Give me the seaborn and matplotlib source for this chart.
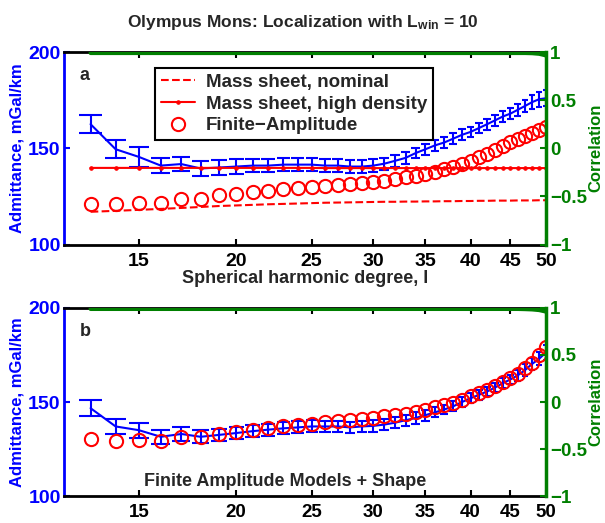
import numpy as np
import matplotlib
matplotlib.use("Agg")
import matplotlib.pyplot as plt
import seaborn as sns

# spherical harmonic degrees
degree = [13, 14, 15, 16, 17, 18, 19, 20, 21, 22, 23, 24, 25, 26, 27, 28, 29, 30, 31,
          32, 33, 34, 35, 36, 37, 38, 39, 40, 41, 42, 43, 44, 45, 46, 47, 48, 49, 50]

# panel a: observed admittance and models
obs_a = [162.5, 149.5, 145.5, 141, 141.8, 139.5, 140, 140.5, 141, 141, 141.5, 141.5, 141.5,
         141, 141, 140.5, 140.5, 141, 142, 143.5, 145, 147.5, 149.5, 151.5, 153, 155, 157,
         158.5, 160.5, 162.5, 164.5, 166.5, 168, 170, 172, 174, 175.5, 176]
err_a = [4.8, 4.6, 5, 4, 3.7, 4, 3.7, 3.7, 3.5, 3.5, 3.5, 3.5, 3.5, 3.5, 3.5, 3.5, 3.2, 3.2,
         3.2, 3.2, 3.2, 2.8, 2.8, 2.8, 2.8, 2.8, 2.8, 2.8, 2.8, 2.8, 2.8, 2.8, 2.8, 3, 3.2,
         3.5, 3.8, 4.2]
nominal_a = [117, 117.5, 118, 118.5, 119, 119.5, 120, 120.3, 120.6, 120.9, 121.1, 121.3,
             121.5, 121.7, 121.8, 121.9, 122, 122.1, 122.2, 122.2, 122.3, 122.3, 122.4, 122.4,
             122.5, 122.5, 122.6, 122.6, 122.7, 122.7, 122.8, 122.8, 122.8, 122.9, 122.9,
             122.9, 123, 123]
high_a = [139.8, 139.8, 139.8, 139.8, 139.8, 139.8, 139.8, 139.8, 139.8, 139.8, 139.8,
          139.8, 139.8, 139.7, 139.7, 139.7, 139.7, 139.7, 139.7, 139.7, 139.7, 139.7,
          139.7, 139.7, 139.7, 139.7, 139.7, 139.7, 139.7, 139.7, 139.7, 139.7, 139.7,
          139.7, 139.7, 139.7, 139.7, 139.7]
finite_a = [121.2, 121, 121.6, 121.5, 123.6, 123.9, 125.5, 126.4, 127.3, 127.9, 128.6, 129.4,
            130, 130.5, 131, 131.5, 132, 132.5, 133, 134, 135, 135.5, 136.5, 137.5, 139,
            140.5, 142, 143.5, 145.5, 147, 149, 151, 153, 155, 156.5, 158, 159.5, 161]
corr_a = [0.99, 0.99, 0.99, 0.99, 0.99, 0.99, 0.99, 0.99, 0.99, 0.99, 0.99, 0.99, 0.99,
          0.99, 0.99, 0.99, 0.99, 0.99, 0.99, 0.99, 0.99, 0.99, 0.99, 0.99, 0.99, 0.99,
          0.99, 0.99, 0.99, 0.99, 0.99, 0.99, 0.99, 0.99, 0.99, 0.988, 0.982, 0.965]

# panel b: finite amplitude models + shape
obs_b = [146.7, 137, 135, 131.5, 133, 131.5, 132.5, 133.5, 134.5, 135.3, 136, 136.5, 137,
         137, 137, 136.5, 137, 137.3, 138, 139, 140.3, 141.5, 143, 144.5, 146, 147.7, 150,
         152, 153.8, 155.6, 157.7, 160, 162, 164.2, 167, 170.3, 173, 176.4]
err_b = [4.2, 3.9, 3.9, 3.6, 3.7, 3.5, 3.2, 3.2, 3.2, 3.2, 3.2, 3.2, 3.2, 3, 3, 3, 3, 3, 3,
         3, 3, 3, 3, 2.6, 2.6, 2.6, 2.6, 2.6, 2.6, 2.6, 2.6, 2.6, 2.6, 2.8, 3, 3.2, 3.5, 3.8]
finite_b = [130.4, 129.2, 130, 129.5, 131.5, 131.3, 133, 134.2, 135.1, 136, 137, 137.9, 138.5,
            139.4, 139.9, 140.5, 141, 141.7, 142.3, 142.9, 143.8, 144.8, 146, 147.2, 148.3,
            149.5, 151.2, 153, 154.7, 156.4, 158.6, 160.8, 162.8, 165, 168, 171, 175, 179]
corr_b = [0.99, 0.99, 0.99, 0.99, 0.99, 0.99, 0.99, 0.99, 0.99, 0.99, 0.99, 0.99, 0.99,
          0.99, 0.99, 0.99, 0.99, 0.99, 0.99, 0.99, 0.99, 0.99, 0.99, 0.99, 0.99, 0.99,
          0.99, 0.99, 0.99, 0.99, 0.99, 0.99, 0.99, 0.99, 0.988, 0.985, 0.978, 0.962]

xticks = [15, 20, 25, 30, 35, 40, 45, 50]
yticks = [100, 150, 200]
cticks = [-1, -0.5, 0, 0.5, 1]
ctick_labels = ["\u22121", "\u22120.5", "0", "0.5", "1"]

sns.set_style("ticks")
plt.rcParams["font.family"] = ["Liberation Sans", "DejaVu Sans"]
plt.rcParams["font.weight"] = "bold"
plt.rcParams["font.size"] = 13
plt.rcParams["mathtext.fontset"] = "custom"
plt.rcParams["mathtext.rm"] = "Liberation Sans:bold"
plt.rcParams["mathtext.it"] = "Liberation Sans:bold"

BLUE = "#0000ff"
RED = "#ff0000"
GREEN = "#007f00"
FS = 13
TICK_FS = 14

fig = plt.figure(figsize=(6.05, 5.23), dpi=100)
ax_a = fig.add_axes([0.105, 0.5325, 0.7975, 0.368])
ax_b = fig.add_axes([0.105, 0.0516, 0.7975, 0.3595])

deg = np.array(degree, dtype=float)


def admittance_panel(ax, obs, err, finite, corr, xpad, xfs):
    obs = np.array(obs)
    err = np.array(err)
    ax.errorbar(deg, obs, yerr=err, fmt="none", ecolor=BLUE, elinewidth=1.5, capsize=0)
    ax.hlines(obs + err, deg - 0.45, deg + 0.45, color=BLUE, lw=1.5)
    ax.hlines(obs - err, deg - 0.45, deg + 0.45, color=BLUE, lw=1.5)
    sns.lineplot(x=deg, y=obs, color=BLUE, lw=1.5, ax=ax)
    ax.set_xscale("log")
    ax.set_xlim(12, 50)
    ax.set_ylim(100, 200)
    ax.set_xticks(xticks)
    ax.set_xticklabels([str(t) for t in xticks])
    ax.xaxis.set_minor_locator(matplotlib.ticker.NullLocator())
    ax.set_yticks(yticks)
    ax.tick_params(axis="x", direction="in", top=True, length=4, width=1.5, colors="black",
                   labelsize=xfs, pad=xpad)
    ax.tick_params(axis="y", direction="in", length=4, width=1.5, colors=BLUE,
                   labelsize=TICK_FS, labelcolor=BLUE, pad=2)
    for lab in ax.get_xticklabels() + ax.get_yticklabels():
        lab.set_fontweight("bold")
    ax.set_ylabel("Admittance, mGal/km", color=BLUE, fontweight="bold", fontsize=12)
    ax.yaxis.set_label_coords(-0.08, 0.5)
    for s in ["top", "bottom"]:
        ax.spines[s].set_color("black")
        ax.spines[s].set_linewidth(2)
    ax.spines["left"].set_color(BLUE)
    ax.spines["left"].set_linewidth(2)
    ax.spines["right"].set_visible(False)

    axc = ax.twinx()
    sns.lineplot(x=deg, y=corr, color=GREEN, lw=3, ax=axc)
    axc.set_ylim(-1, 1)
    axc.set_yticks(cticks)
    axc.set_yticklabels(ctick_labels)
    axc.tick_params(axis="y", direction="in", length=4, width=1.5, colors=GREEN,
                    labelsize=13.5, labelcolor=GREEN, pad=3)
    for lab in axc.get_yticklabels():
        lab.set_fontweight("bold")
    axc.set_ylabel("Correlation", color=GREEN, fontweight="bold", fontsize=12)
    axc.yaxis.set_label_coords(1.087, 0.5)
    axc.spines["right"].set_color(GREEN)
    axc.spines["right"].set_linewidth(2.5)
    axc.spines["left"].set_visible(False)
    axc.spines["top"].set_visible(False)
    axc.spines["bottom"].set_visible(False)
    return ax


# ---- panel a
admittance_panel(ax_a, obs_a, err_a, finite_a, corr_a, 6, TICK_FS)
sns.lineplot(x=deg, y=nominal_a, color=RED, lw=1.5, linestyle="--", ax=ax_a)
h_nom = ax_a.lines[-1]
sns.lineplot(x=deg, y=high_a, color=RED, lw=1.5, marker=".", markersize=5,
             markeredgecolor=RED, ax=ax_a)
h_high = ax_a.lines[-1]
h_fin, = ax_a.plot(deg, finite_a, ls="none", marker="o", ms=9.5, mfc="none", mec=RED, mew=1.5)
ax_a.legend([h_nom, h_high, h_fin],
            ["Mass sheet, nominal", "Mass sheet, high density", "Finite\u2212Amplitude"],
            loc="upper left", bbox_to_anchor=(0.19, 0.917), borderaxespad=0,
            frameon=True, fancybox=False, edgecolor="black", framealpha=1,
            prop={"weight": "bold", "size": 13.5}, handlelength=1.8, handletextpad=0.6,
            labelspacing=0.25, borderpad=0.3)
ax_a.legend_.get_frame().set_linewidth(1.5)
ax_a.text(0.034, 0.88, "a", transform=ax_a.transAxes, fontsize=FS, fontweight="bold",
          va="center", ha="left")
ax_a.set_xlabel("Spherical harmonic degree, l", fontweight="bold", fontsize=FS)
ax_a.xaxis.set_label_coords(0.5, -0.135)
fig.text(0.5, 1 - 22 / 523, "Olympus Mons: Localization with L$_{\\rm win}$ = 10",
         fontweight="bold", fontsize=12.5, ha="center", va="center")

# ---- panel b
admittance_panel(ax_b, obs_b, err_b, finite_b, corr_b, 6, 13.5)
ax_b.plot(deg, finite_b, ls="none", marker="o", ms=9.5, mfc="none", mec=RED, mew=1.5)
ax_b.set_xlabel("")
ax_b.text(0.034, 0.875, "b", transform=ax_b.transAxes, fontsize=FS, fontweight="bold",
          va="center", ha="left")
ax_b.text(0.459, 0.078, "Finite Amplitude Models + Shape", transform=ax_b.transAxes,
          fontsize=FS, fontweight="bold", va="center", ha="center")

fig.savefig("out.png", dpi=100)
